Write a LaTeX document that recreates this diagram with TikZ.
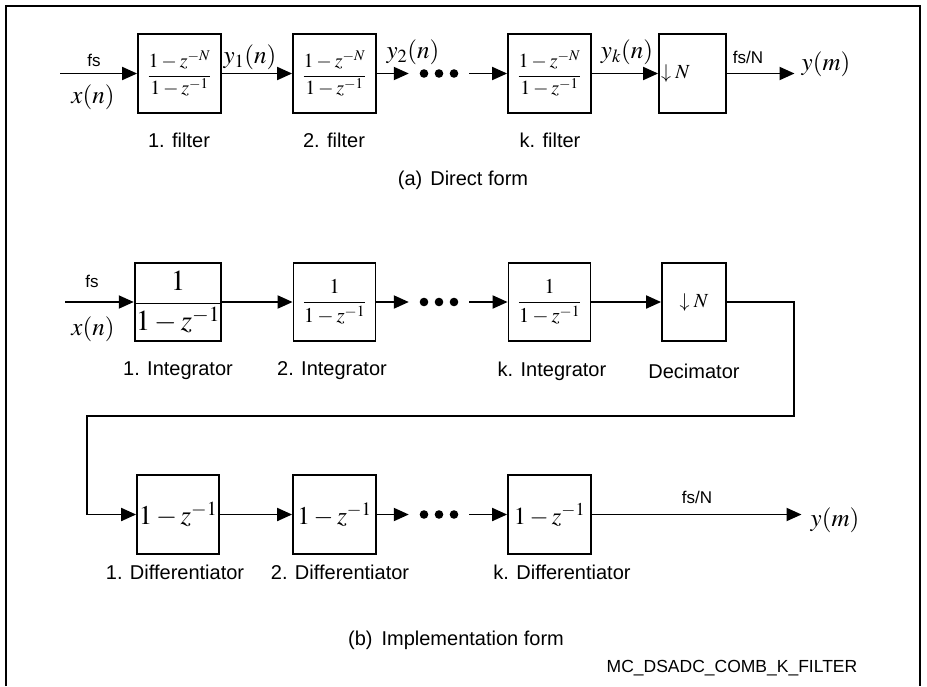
\documentclass[tikz,border=0pt]{standalone}
\usepackage{mathptmx}
\usepackage{fontspec}
\setmainfont{Liberation Sans}
\usetikzlibrary{arrows.meta,positioning,calc}

\tikzset{
  blk/.style={draw, line width=1.8pt, inner sep=0pt, minimum width=83pt, minimum height=79pt, font=\fontsize{20}{24}\selectfont},
  sig/.style={line width=1.9pt, -{Triangle[length=15pt,width=13pt]}},
  lbl/.style={inner sep=0pt, font=\fontsize{20}{24}\selectfont},
  rate/.style={inner sep=0pt, font=\fontsize{17}{20}\selectfont},
  sgn/.style={inner sep=0pt, font=\fontsize{25}{30}\selectfont},
  dots/.style={minimum width=60pt, minimum height=10pt, inner sep=0pt,
    path picture={\foreach \d in {-15,0,15} \fill ([xshift=\d pt]path picture bounding box.center) circle (4.3pt);}},
}

\begin{document}
\begin{tikzpicture}[x=1pt,y=-1pt]
\useasboundingbox (0,0) rectangle (927,686);
\draw[line width=2.8pt] (6,686) -- (6,6) -- (920,6) -- (920,686);

% (a) direct form
\coordinate (ina) at (60,73.5);
\node[blk] (f1) at (179.5,73.5) {$\displaystyle\frac{1-z^{-N}}{1-z^{-1}}$};
\node[blk] (f2) at (334.5,73.5) {$\displaystyle\frac{1-z^{-N}}{1-z^{-1}}$};
\node[dots] (da) at (439,73.5) {};
\node[blk] (fk) at (549.5,73.5) {$\displaystyle\frac{1-z^{-N}}{1-z^{-1}}$};
\node[blk, minimum width=67pt, text width=63pt, align=left] (dn) at (692.5,73.5) {$\downarrow N$};
\node[sgn] (yma) at (826,64) {$y(m)$};
\draw[sig] (ina) -- (f1);
\draw[sig] (f1) -- (f2);
\draw[sig] (f2) -- (da);
\draw[sig] (da) -- (fk);
\draw[sig] (fk) -- (dn);
\draw[sig] (dn) -- ([xshift=-7pt]dn -| yma.west);
\node[rate] (fsa) at (94,60) {fs};
\node[sgn] (xa) at (93,97) {$x(n)$};
\node[sgn] (y1) at (250,57) {$y_1(n)$};
\node[sgn] (y2) at (413,52) {$y_2(n)$};
\node[sgn] (yk) at (627,52) {$y_k(n)$};
\node[rate] (fsna) at (748,57) {fs/N};
\node[lbl] (lf1) at (179,140) {1. filter};
\node[lbl] (lf2) at (334,140) {2. filter};
\node[lbl] (lfk) at (550,140) {k. filter};
\node[lbl] (capa) at (463,180) {(a)\hspace{8pt}Direct form};

% (b) implementation form: integrators
\coordinate (inb) at (65,302);
\node[blk, minimum width=82pt, minimum height=78pt, font=\fontsize{29}{34}\selectfont] (i1) at (178,302) {$\displaystyle\frac{1}{1-z^{-1}}$};
\node[blk, minimum width=82pt, minimum height=78pt, font=\fontsize{21}{25}\selectfont] (i2) at (334.5,302) {$\displaystyle\frac{1}{1-z^{-1}}$};
\node[dots] (db) at (439,302) {};
\node[blk, minimum width=82pt, minimum height=78pt, font=\fontsize{21}{25}\selectfont] (ik) at (549.5,302) {$\displaystyle\frac{1}{1-z^{-1}}$};
\node[blk, minimum width=64pt, minimum height=78pt] (dec) at (694,302) {$\downarrow N$};
\draw[sig] (inb) -- (i1);
\draw[sig] (i1) -- (i2);
\draw[sig] (i2) -- (db);
\draw[sig] (db) -- (ik);
\draw[sig] (ik) -- (dec);
\node[rate] (fsb) at (92,281) {fs};
\node[sgn] (xb) at (93,329) {$x(n)$};
\node[lbl] (li1) at (178,371) {1. Integrator};
\node[lbl] (li2) at (332,371) {2. Integrator};
\node[lbl] (lik) at (552,371) {k. Integrator};
\node[lbl] (ldec) at (694,371) {Decimator};

% differentiators
\node[blk, minimum width=82pt, font=\fontsize{27}{32}\selectfont] (d1) at (178,514.5) {$1-z^{-1}$};
\node[blk, font=\fontsize{25.5}{30}\selectfont] (d2) at (334.5,514.5) {$1-z^{-1}$};
\node[dots] (dc) at (439,514.5) {};
\node[blk, font=\fontsize{24.5}{29}\selectfont] (dk) at (549.5,514.5) {$1-z^{-1}$};
\node[sgn] (ymb) at (835,520) {$y(m)$};
\draw[sig] (dec.east) -| (794,416) -| ([xshift=-49pt]d1.west) -- (d1.west);
\draw[sig] (d1) -- (d2);
\draw[sig] (d2) -- (dc);
\draw[sig] (dc) -- (dk);
\draw[sig] (dk) -- ([xshift=-9pt]dk -| ymb.west);
\node[rate] (fsnb) at (697,497) {fs/N};
\node[lbl] (ld1) at (175,572) {1. Differentiator};
\node[lbl] (ld2) at (340,572) {2. Differentiator};
\node[lbl] (ldk) at (562,572) {k. Differentiator};
\node[lbl] (capb) at (456,640) {(b)\hspace{9pt}Implementation form};
\node[inner sep=0pt, font=\fontsize{17.5}{21}\selectfont] (tag) at (732,668) {MC\_DSADC\_COMB\_K\_FILTER};
\end{tikzpicture}
\end{document}
